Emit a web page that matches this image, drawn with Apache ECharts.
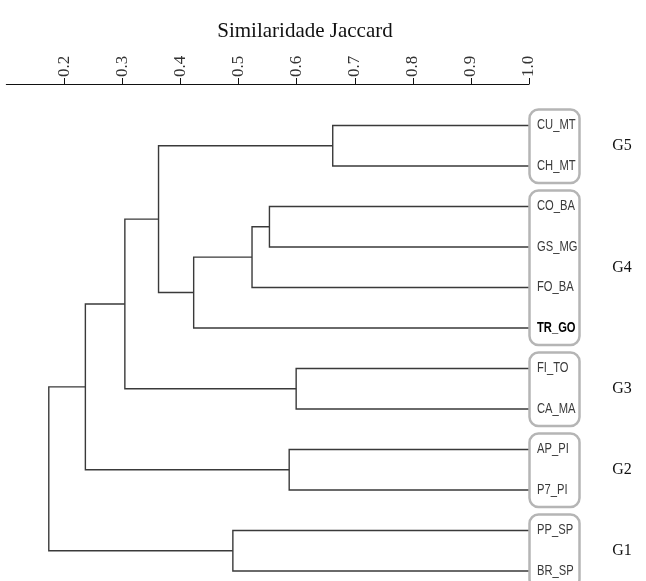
<!DOCTYPE html>
<html>
<head>
<meta charset="utf-8">
<script src="https://cdn.jsdelivr.net/npm/echarts@6/dist/echarts.min.js"></script>
<style>html,body{margin:0;padding:0;background:#fff}#c{width:646px;height:581px}</style>
</head>
<body>
<div id="c"></div>
<script>
// Leaves (top to bottom)
var leaves = ['CU_MT','CH_MT','CO_BA','GS_MG','FO_BA','TR_GO','FI_TO','CA_MA','AP_PI','P7_PI','PP_SP','BR_SP'];
// Merges: [child A, child B, Jaccard similarity]; ids 0..11 are leaves, 12.. are merge nodes in order
var merges = [
  [0, 1, 0.662],
  [2, 3, 0.553],
  [13, 4, 0.523],
  [14, 5, 0.4225],
  [12, 15, 0.362],
  [6, 7, 0.599],
  [16, 17, 0.304],
  [8, 9, 0.587],
  [18, 19, 0.236],
  [10, 11, 0.490],
  [20, 21, 0.173]
];
var groupNames = ['G5','G4','G3','G2','G1'];
var groupFrom  = [0, 2, 6, 8, 10];
var groupTo    = [1, 5, 7, 9, 11];
var boldLeaves = ['TR_GO'];

// node heights and vertical positions (in leaf index units)
var nodeH = [], nodeY = [];
leaves.forEach(function(l,i){ nodeH[i] = 1.0; nodeY[i] = i; });
merges.forEach(function(m,k){
  var id = leaves.length + k;
  nodeH[id] = m[2];
  nodeY[id] = (nodeY[m[0]] + nodeY[m[1]]) / 2;
});
var mergeData = merges.map(function(m,k){
  return [m[2], nodeY[leaves.length+k], nodeH[m[0]], nodeY[m[0]], nodeH[m[1]], nodeY[m[1]]];
});
var groupData = groupNames.map(function(g,i){ return [1.0, groupFrom[i], groupTo[i], i]; });
var leafData = leaves.map(function(l,i){ return [1.0, i, i]; });

var chart = echarts.init(document.getElementById('c'), null, {renderer:'canvas'});
chart.setOption({
  animation: false,
  backgroundColor: '#fff',
  title: {
    text: 'Similaridade Jaccard',
    left: 300, top: 16, textAlign: 'center',
    textStyle: {fontFamily: 'Liberation Serif', fontSize: 21, fontWeight: 'normal', color: '#111'}
  },
  grid: {left: 6.4, right: 117, top: 84, bottom: 10, containLabel: false},
  xAxis: {
    type: 'value', position: 'top', min: 0.1, max: 1.0, interval: 0.1,
    axisLine: {show: true, onZero: false, lineStyle: {color: '#111', width: 1.2}},
    axisTick: {show: true, length: 6, lineStyle: {color: '#111', width: 1}},
    axisLabel: {
      rotate: -90, margin: 7, showMinLabel: false,
      fontFamily: 'Liberation Serif', fontSize: 17, color: '#333',
      formatter: function(v){ return v.toFixed(1); }
    },
    splitLine: {show: false}
  },
  yAxis: {type: 'value', inverse: true, min: -1.025, max: 11, show: false},
  series: [
    {
      type: 'custom', coordinateSystem: 'cartesian2d', silent: true,
      data: mergeData,
      renderItem: function(params, api){
        var p = api.coord([api.value(0), api.value(1)]);
        var a = api.coord([api.value(2), api.value(3)]);
        var b = api.coord([api.value(4), api.value(5)]);
        return {
          type: 'polyline',
          shape: {points: [[a[0], a[1]], [p[0], a[1]], [p[0], b[1]], [b[0], b[1]]]},
          style: {stroke: '#3a3a3a', lineWidth: 1.4, fill: null}
        };
      }
    },
    {
      type: 'custom', coordinateSystem: 'cartesian2d', silent: true,
      data: groupData,
      renderItem: function(params, api){
        var t = api.coord([api.value(0), api.value(1)]);
        var b = api.coord([api.value(0), api.value(2)]);
        var x0 = t[0] + 0.5, y0 = t[1] - 16, y1 = b[1] + 17;
        return {
          type: 'group',
          children: [
            {type: 'rect', shape: {x: x0, y: y0, width: 50, height: y1 - y0, r: 9},
             style: {stroke: '#b5b5b5', lineWidth: 2.5, fill: null}},
            {type: 'text', x: 622, y: (y0 + y1) / 2,
             style: {text: groupNames[api.value(3)], fontFamily: 'Liberation Serif', fontSize: 16,
                     fill: '#111', align: 'center', verticalAlign: 'middle'}}
          ]
        };
      }
    },
    {
      type: 'custom', coordinateSystem: 'cartesian2d', silent: true,
      data: leafData,
      renderItem: function(params, api){
        var p = api.coord([api.value(0), api.value(1)]);
        var name = leaves[api.value(2)];
        var bold = boldLeaves.indexOf(name) >= 0;
        return {
          type: 'text', x: p[0] + 8, y: p[1], scaleX: 0.8,
          style: {text: name, fontFamily: 'Liberation Sans', fontSize: 14,
                  fontWeight: bold ? 'bold' : 'normal', fill: bold ? '#000' : '#3a3a3a',
                  align: 'left', verticalAlign: 'middle'}
        };
      }
    }
  ]
});
</script>
</body>
</html>
